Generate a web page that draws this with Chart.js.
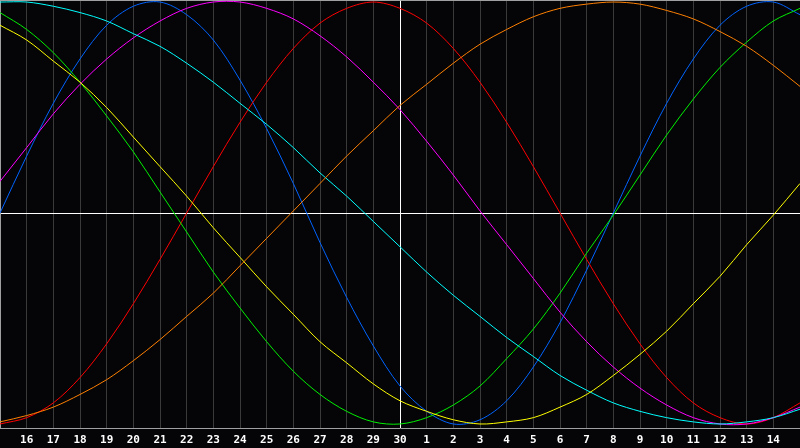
<!DOCTYPE html>
<html>
<head>
<meta charset="utf-8">
<script src="https://cdn.jsdelivr.net/npm/chart.js@4/dist/chart.umd.min.js"></script>
<style>
  html, body { margin: 0; padding: 0; background: #050508; overflow: hidden; }
  #wrap { width: 800px; height: 448px; }
</style>
</head>
<body>
<div id="wrap"><canvas id="c" width="800" height="448"></canvas></div>
<script>
// Day labels along the x axis (15 of previous month .. 15 of next month)
const days = ['15','16','17','18','19','20','21','22','23','24','25','26','27','28','29','30',
              '1','2','3','4','5','6','7','8','9','10','11','12','13','14','15'];

// Cycle values (-1..1) read per day from the picture
const physical = [0, 0.27, 0.52, 0.73, 0.89, 0.98, 1.00, 0.94, 0.82, 0.63, 0.40, 0.14, -0.14, -0.40, -0.63, -0.82,
  -0.94, -1.00, -0.98, -0.89, -0.73, -0.52, -0.27, 0, 0.27, 0.52, 0.73, 0.89, 0.98, 1.00, 0.94];
const emotional = [-1, -0.97, -0.90, -0.78, -0.62, -0.43, -0.22, 0, 0.22, 0.43, 0.62, 0.78, 0.90, 0.97, 1, 0.97,
  0.90, 0.78, 0.62, 0.43, 0.22, 0, -0.22, -0.43, -0.62, -0.78, -0.90, -0.97, -1, -0.97, -0.90];
const intellectual = [0.95, 0.87, 0.76, 0.62, 0.46, 0.29, 0.10, -0.09, -0.28, -0.45, -0.61, -0.75, -0.86, -0.94, -0.99, -1.00,
  -0.97, -0.91, -0.82, -0.69, -0.55, -0.38, -0.19, -0.01, 0.18, 0.37, 0.54, 0.69, 0.81, 0.91, 0.97];
const intuitive = [0.15, 0.31, 0.47, 0.61, 0.73, 0.83, 0.91, 0.97, 1.00, 1.00, 0.97, 0.92, 0.84, 0.74, 0.62, 0.49,
  0.34, 0.18, 0.01, -0.15, -0.31, -0.47, -0.61, -0.73, -0.83, -0.91, -0.97, -1.00, -1.00, -0.97, -0.92];
const aesthetic = [0.89, 0.82, 0.72, 0.62, 0.50, 0.36, 0.22, 0.08, -0.07, -0.21, -0.35, -0.48, -0.61, -0.71, -0.81, -0.89,
  -0.94, -0.98, -1.00, -0.99, -0.97, -0.92, -0.86, -0.77, -0.67, -0.56, -0.43, -0.30, -0.15, -0.01, 0.14];
const awareness = [-0.99, -0.96, -0.92, -0.86, -0.79, -0.70, -0.60, -0.49, -0.38, -0.25, -0.12, 0.01, 0.14, 0.27, 0.39, 0.51,
  0.61, 0.71, 0.80, 0.87, 0.93, 0.97, 0.99, 1.00, 0.99, 0.96, 0.92, 0.86, 0.79, 0.70, 0.60];
const spiritual = [1.00, 1.00, 0.98, 0.95, 0.91, 0.85, 0.79, 0.71, 0.62, 0.52, 0.42, 0.31, 0.19, 0.08, -0.04, -0.16,
  -0.28, -0.39, -0.49, -0.59, -0.68, -0.77, -0.84, -0.90, -0.94, -0.97, -0.99, -1.00, -0.99, -0.97, -0.93];

const todayIndex = 15;

function ds(data, color) {
  return { data: data, borderColor: color, borderWidth: 1, pointRadius: 0, pointHoverRadius: 0,
           pointBorderWidth: 0, pointHitRadius: 0, fill: false, tension: 0.33 };
}

function noPad(s) { s.paddingLeft = 0; s.paddingRight = 0; s.paddingTop = 0; s.paddingBottom = 0; }

new Chart(document.getElementById('c'), {
  type: 'line',
  data: {
    labels: days,
    datasets: [
      ds(awareness, '#ff8000'),
      ds(aesthetic, '#ffff00'),
      ds(spiritual, '#00ffff'),
      ds(intuitive, '#ff00ff'),
      ds(intellectual, '#00f000'),
      ds(emotional, '#ff0000'),
      ds(physical, '#0064ff')
    ]
  },
  options: {
    responsive: false,
    animation: false,
    devicePixelRatio: 1,
    layout: { padding: 0, autoPadding: false },
    plugins: { legend: { display: false }, tooltip: { enabled: false } },
    scales: {
      x: {
        type: 'category',
        offset: false,
        grid: {
          drawTicks: false,
          color: (ctx) => ctx.index === todayIndex ? '#ffffff' : '#3a3a3a',
          lineWidth: 1
        },
        border: { display: true, color: '#a0a0a0', width: 1 },
        ticks: {
          autoSkip: false,
          maxRotation: 0,
          minRotation: 0,
          padding: 6,
          color: '#ffffff',
          font: { family: 'DejaVu Sans Mono', weight: 'bold', size: 11 },
          callback: (v, i) => (i === 0 || i === days.length - 1) ? '' : days[i]
        },
        afterFit: (s) => { s.height = 20; noPad(s); }
      },
      x2: {
        type: 'category',
        position: 'top',
        offset: false,
        grid: { display: false, drawTicks: false },
        border: { display: true, color: '#a0a0a0', width: 1 },
        ticks: { display: false },
        afterFit: (s) => { s.height = 0; noPad(s); }
      },
      y: {
        min: -1.019,
        max: 1.0096,
        grid: {
          drawTicks: false,
          color: (ctx) => ctx.tick && ctx.tick.value === 0 ? '#ffffff' : 'rgba(0,0,0,0)',
          lineWidth: 1
        },
        border: { display: true, color: '#a0a0a0', width: 1 },
        ticks: { display: false },
        afterBuildTicks: (s) => { s.ticks = [{ value: 0 }]; },
        afterFit: (s) => { s.width = 0; noPad(s); }
      }
    }
  }
});
</script>
</body>
</html>
